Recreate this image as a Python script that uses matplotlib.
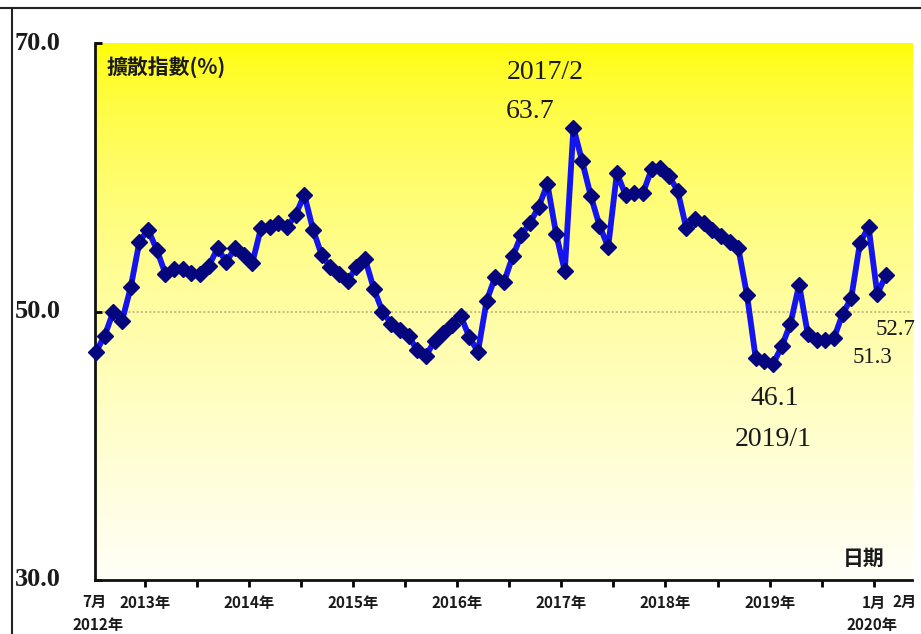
import numpy as np
import matplotlib.pyplot as plt
from matplotlib.lines import Line2D

# monthly diffusion index, 2012/7 .. 2020/2
values = [47.0, 48.2, 50.0, 49.3, 51.8, 55.2,
          56.1, 54.6, 52.8, 53.2, 53.2, 52.9, 52.8, 53.4, 54.7, 53.7, 54.7, 54.2,
          53.6, 56.2, 56.3, 56.6, 56.3, 57.2, 58.7, 56.1, 54.2, 53.3, 52.8, 52.3,
          53.3, 53.9, 51.7, 50.0, 49.1, 48.6, 48.2, 47.1, 46.7, 47.8, 48.4, 49.0,
          49.7, 48.1, 47.0, 50.8, 52.6, 52.2, 54.1, 55.7, 56.6, 57.8, 59.5, 55.8,
          53.0, 63.7, 61.2, 58.6, 56.4, 54.8, 60.3, 58.7, 58.8, 58.8, 60.6, 60.7,
          60.1, 59.0, 56.2, 56.9, 56.6, 56.1, 55.6, 55.2, 54.7, 51.2, 46.5, 46.3,
          46.1, 47.4, 49.1, 52.0, 48.3, 47.9, 47.9, 48.0, 49.8, 51.0, 55.1, 56.3,
          51.3, 52.7]

year_ticks = [6, 18, 30, 42, 54, 66, 78, 90]
year_labels = ["2013年", "2014年", "2015年", "2016年", "2017年", "2018年", "2019年", "1月"]
half_ticks = [12, 24, 36, 48, 60, 72, 84]
y_labels = ["30.0", "50.0", "70.0"]
y_levels = [30, 50, 70]

cjk = ["Noto Sans CJK TC", "DejaVu Sans"]
serif = "Liberation Serif"
ink = "#1a1a1a"

x = np.arange(len(values))

fig = plt.figure(figsize=(9.21, 6.34), dpi=100)
ax = fig.add_axes([95 / 921, 54 / 634, 817 / 921, 537 / 634])

xlim = (-0.115, 94.0)

# yellow -> white vertical gradient background
t = np.linspace(0, 1, 256)[:, None]
blue = 0.97 * t ** 0.6
grad = np.dstack([np.ones_like(t), np.ones_like(t) - 0.01 * (1 - t), blue])
ax.imshow(grad, extent=[xlim[0], xlim[1], 30, 70], aspect="auto", origin="upper", zorder=0)

ax.axhline(50, color="#c9bf8c", ls=(0, (1, 1)), lw=1.5, zorder=1)

ax.plot(x, values, color="#1414ee", lw=4.2, marker="D", ms=8.5,
        mfc="#05057e", mec="#05057e", zorder=3, clip_on=False)

ax.set_xlim(*xlim)
ax.set_ylim(30, 70)

for s in ["top", "right"]:
    ax.spines[s].set_visible(False)
for s in ["left", "bottom"]:
    ax.spines[s].set_linewidth(2)
    ax.spines[s].set_color("#111111")

ax.set_yticks(y_levels)
ax.set_yticklabels([])
ax.tick_params(axis="y", direction="in", length=5, width=2)

ax.set_xticks([p - 0.4 for p in year_ticks])
ax.set_xticklabels(year_labels, family=cjk, fontweight="bold", fontsize=11, color=ink)
ax.set_xticks([p - 0.4 for p in half_ticks], minor=True)
ax.tick_params(axis="x", which="both", direction="out", length=5, width=2, pad=6)

ytr = ax.get_yaxis_transform()
for lab, lv in zip(y_labels, y_levels):
    ax.text(-0.098, lv, lab, transform=ytr, ha="left", va="center",
            family=serif, fontweight="bold", fontsize=19, color=ink)

xtr = ax.get_xaxis_transform()
ax.text(-0.2, -0.041, "7月", transform=xtr, ha="center", va="center",
        family=cjk, fontweight="bold", fontsize=11, color=ink, clip_on=False)
ax.text(93.1, -0.041, "2月", transform=xtr, ha="center", va="center",
        family=cjk, fontweight="bold", fontsize=11, color=ink, clip_on=False)
ax.text(0.2, -0.083, "2012年", transform=xtr, ha="center", va="center",
        family=cjk, fontweight="bold", fontsize=11, color=ink, clip_on=False)
ax.text(89.4, -0.083, "2020年", transform=xtr, ha="center", va="center",
        family=cjk, fontweight="bold", fontsize=11, color=ink, clip_on=False)

ax.text(1.27, 68.2, "擴散指數(%)", ha="left", va="center",
        family=cjk, fontweight="bold", fontsize=15, color=ink)
ax.text(86.06, 31.6, "日期", ha="left", va="center",
        family=cjk, fontweight="bold", fontsize=15, color=ink)

# annotations
ax.text(47.35, 67.8, "2017/2", ha="left", va="center", family=serif, fontsize=20, color=ink)
ax.text(47.2, 64.9, "63.7", ha="left", va="center", family=serif, fontsize=20, color=ink)
ax.text(78.2, 43.5, "46.1", ha="center", va="center", family=serif, fontsize=20, color=ink)
ax.text(78.0, 40.5, "2019/1", ha="center", va="center", family=serif, fontsize=20, color=ink)
ax.text(92.05, 48.65, "52.7", ha="center", va="center", family=serif, fontsize=16.5,
        color=ink, clip_on=False)
ax.text(89.4, 46.55, "51.3", ha="center", va="center", family=serif, fontsize=16.5,
        color=ink, clip_on=False)

# outer table border
fig.add_artist(Line2D([0, 1], [1 - 8 / 634] * 2, transform=fig.transFigure, color="#222222", lw=1.5))
fig.add_artist(Line2D([12 / 921] * 2, [0, 1 - 8 / 634], transform=fig.transFigure, color="#222222", lw=1.5))

fig.savefig("out.png", dpi=100)
